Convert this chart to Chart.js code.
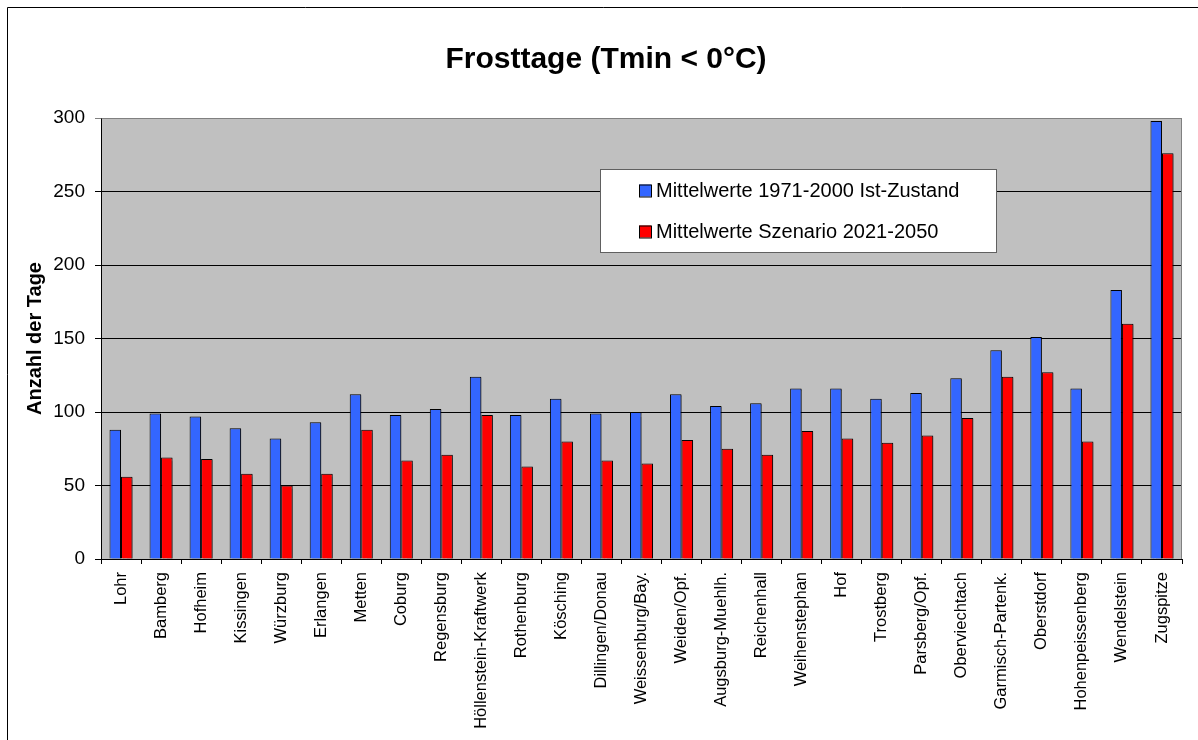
<!DOCTYPE html>
<html>
<head>
<meta charset="utf-8">
<script src="https://cdn.jsdelivr.net/npm/chart.js@4.4.1/dist/chart.umd.min.js"></script>
<style>
  html, body { margin: 0; padding: 0; background: #ffffff; }
  #wrap { position: relative; width: 1198px; height: 740px; }
  canvas { display: block; }
</style>
</head>
<body>
<div id="wrap"><canvas id="c" width="1198" height="740"></canvas></div>
<script>
const chartTitle = 'Frosttage (Tmin < 0°C)';
const yAxisTitle = 'Anzahl der Tage';
const stations = ['Lohr', 'Bamberg', 'Hofheim', 'Kissingen', 'Würzburg', 'Erlangen', 'Metten', 'Coburg',
  'Regensburg', 'Höllenstein-Kraftwerk', 'Rothenburg', 'Kösching', 'Dillingen/Donau', 'Weissenburg/Bay.',
  'Weiden/Opf.', 'Augsburg-Muehlh.', 'Reichenhall', 'Weihenstephan', 'Hof', 'Trostberg', 'Parsberg/Opf.',
  'Oberviechtach', 'Garmisch-Partenk.', 'Oberstdorf', 'Hohenpeissenberg', 'Wendelstein', 'Zugspitze'];
const seriesNames = ['Mittelwerte 1971-2000 Ist-Zustand', 'Mittelwerte Szenario 2021-2050'];
const istZustand = [88, 99, 97, 89, 82, 93, 112, 98, 102, 124, 98, 109, 99, 100, 112, 104, 106, 116, 116, 109, 113, 123, 142, 151, 116, 183, 298];
const szenario = [56, 69, 68, 58, 50, 58, 88, 67, 71, 98, 63, 80, 67, 65, 81, 75, 71, 87, 82, 79, 84, 96, 124, 127, 80, 160, 276];
const yTicks = [0, 50, 100, 150, 200, 250, 300];

const FONT = '"Liberation Sans", Arial, Helvetica, sans-serif';
const colors = ['#3366FF', '#FF0000'];

const plotBg = {
  id: 'plotBg',
  beforeDraw(chart) {
    const {ctx, chartArea: a} = chart;
    ctx.save();
    ctx.fillStyle = '#ffffff';
    ctx.fillRect(0, 0, chart.width, chart.height);
    // outer frame (left + top visible)
    ctx.strokeStyle = '#000000';
    ctx.lineWidth = 1;
    ctx.beginPath();
    ctx.moveTo(7.5, chart.height + 5);
    ctx.lineTo(7.5, 7.5);
    ctx.lineTo(chart.width + 5, 7.5);
    ctx.stroke();
    ctx.fillStyle = '#C0C0C0';
    ctx.fillRect(a.left, a.top, a.right - a.left, a.bottom - a.top);
    ctx.restore();
  },
  beforeDatasetsDraw(chart) {
    const ctx = chart.ctx;
    ctx.save();
    ctx.shadowColor = 'rgba(0,0,0,0.35)';
    ctx.shadowOffsetX = 2;
    ctx.shadowOffsetY = 1;
    ctx.shadowBlur = 1;
  },
  afterDatasetsDraw(chart) {
    const {ctx, chartArea: a} = chart;
    ctx.restore();
    // plot border (top & right, grey)
    ctx.save();
    ctx.strokeStyle = '#808080';
    ctx.lineWidth = 1;
    ctx.beginPath();
    ctx.moveTo(Math.round(a.left) + 0.5, Math.round(a.top) + 0.5);
    ctx.lineTo(Math.round(a.right) - 0.5, Math.round(a.top) + 0.5);
    ctx.lineTo(Math.round(a.right) - 0.5, Math.round(a.bottom));
    ctx.stroke();
    ctx.restore();
    // legend box
    const bx = 600, by = 169, bw = 396, bh = 83;
    ctx.save();
    ctx.fillStyle = '#ffffff';
    ctx.fillRect(bx, by, bw, bh);
    ctx.strokeStyle = '#606060';
    ctx.lineWidth = 1;
    ctx.strokeRect(bx + 0.5, by + 0.5, bw, bh);
    ctx.font = '20px ' + FONT;
    ctx.textBaseline = 'middle';
    ctx.textAlign = 'left';
    const rows = [190.5, 231.5];
    chart.data.datasets.forEach((ds, i) => {
      const cy = rows[i];
      ctx.fillStyle = ds.backgroundColor;
      ctx.fillRect(639, cy - 6, 12, 12);
      ctx.strokeStyle = '#000000';
      ctx.strokeRect(639.5, cy - 5.5, 12, 12);
      ctx.fillStyle = '#000000';
      ctx.fillText(ds.label, 656, cy + 1);
    });
    ctx.restore();
  }
};

new Chart(document.getElementById('c'), {
  type: 'bar',
  data: {
    labels: stations,
    datasets: [
      { label: seriesNames[0], data: istZustand, backgroundColor: colors[0], borderColor: '#000000', borderWidth: 1 },
      { label: seriesNames[1], data: szenario, backgroundColor: colors[1], borderColor: '#000000', borderWidth: 1 }
    ]
  },
  options: {
    responsive: false,
    animation: false,
    devicePixelRatio: 1,
    datasets: { bar: { categoryPercentage: 0.575, barPercentage: 1.0 } },
    layout: { padding: { left: 30, right: 16, top: 0, bottom: 0 } },
    plugins: {
      legend: { display: false },
      tooltip: { enabled: false },
      title: {
        display: true,
        text: chartTitle,
        color: '#000000',
        font: { family: FONT, size: 30, weight: 'bold', lineHeight: 1.2 },
        padding: { top: 42, bottom: 40 }
      }
    },
    scales: {
      x: {
        offset: true,
        grid: { display: true, drawOnChartArea: false, drawTicks: true, tickLength: 5, color: '#000000', offset: true },
        border: { display: true, color: '#000000', width: 1 },
        ticks: {
          color: '#000000', autoSkip: false, maxRotation: 90, minRotation: 90, padding: 8,
          font: { family: FONT, size: 16.5 }
        },
        afterFit(scale) { scale.height = 181; }
      },
      y: {
        min: 0, max: 300,
        afterBuildTicks(scale) { scale.ticks = yTicks.map(v => ({ value: v })); },
        grid: {
          color: (c) => (c.tick && c.tick.value === 300 ? '#808080' : '#000000'),
          lineWidth: 1, tickLength: 6, drawTicks: true
        },
        border: { display: true, color: '#000000', width: 1 },
        ticks: { color: '#000000', padding: 10, font: { family: FONT, size: 19 } },
        title: {
          display: true, text: yAxisTitle, color: '#000000',
          font: { family: FONT, size: 20, weight: 'bold', lineHeight: 1.2 },
          padding: { top: -7, bottom: 0 }
        },
        afterFit(scale) { scale.width = 71; }
      }
    }
  },
  plugins: [plotBg]
});
</script>
</body>
</html>
